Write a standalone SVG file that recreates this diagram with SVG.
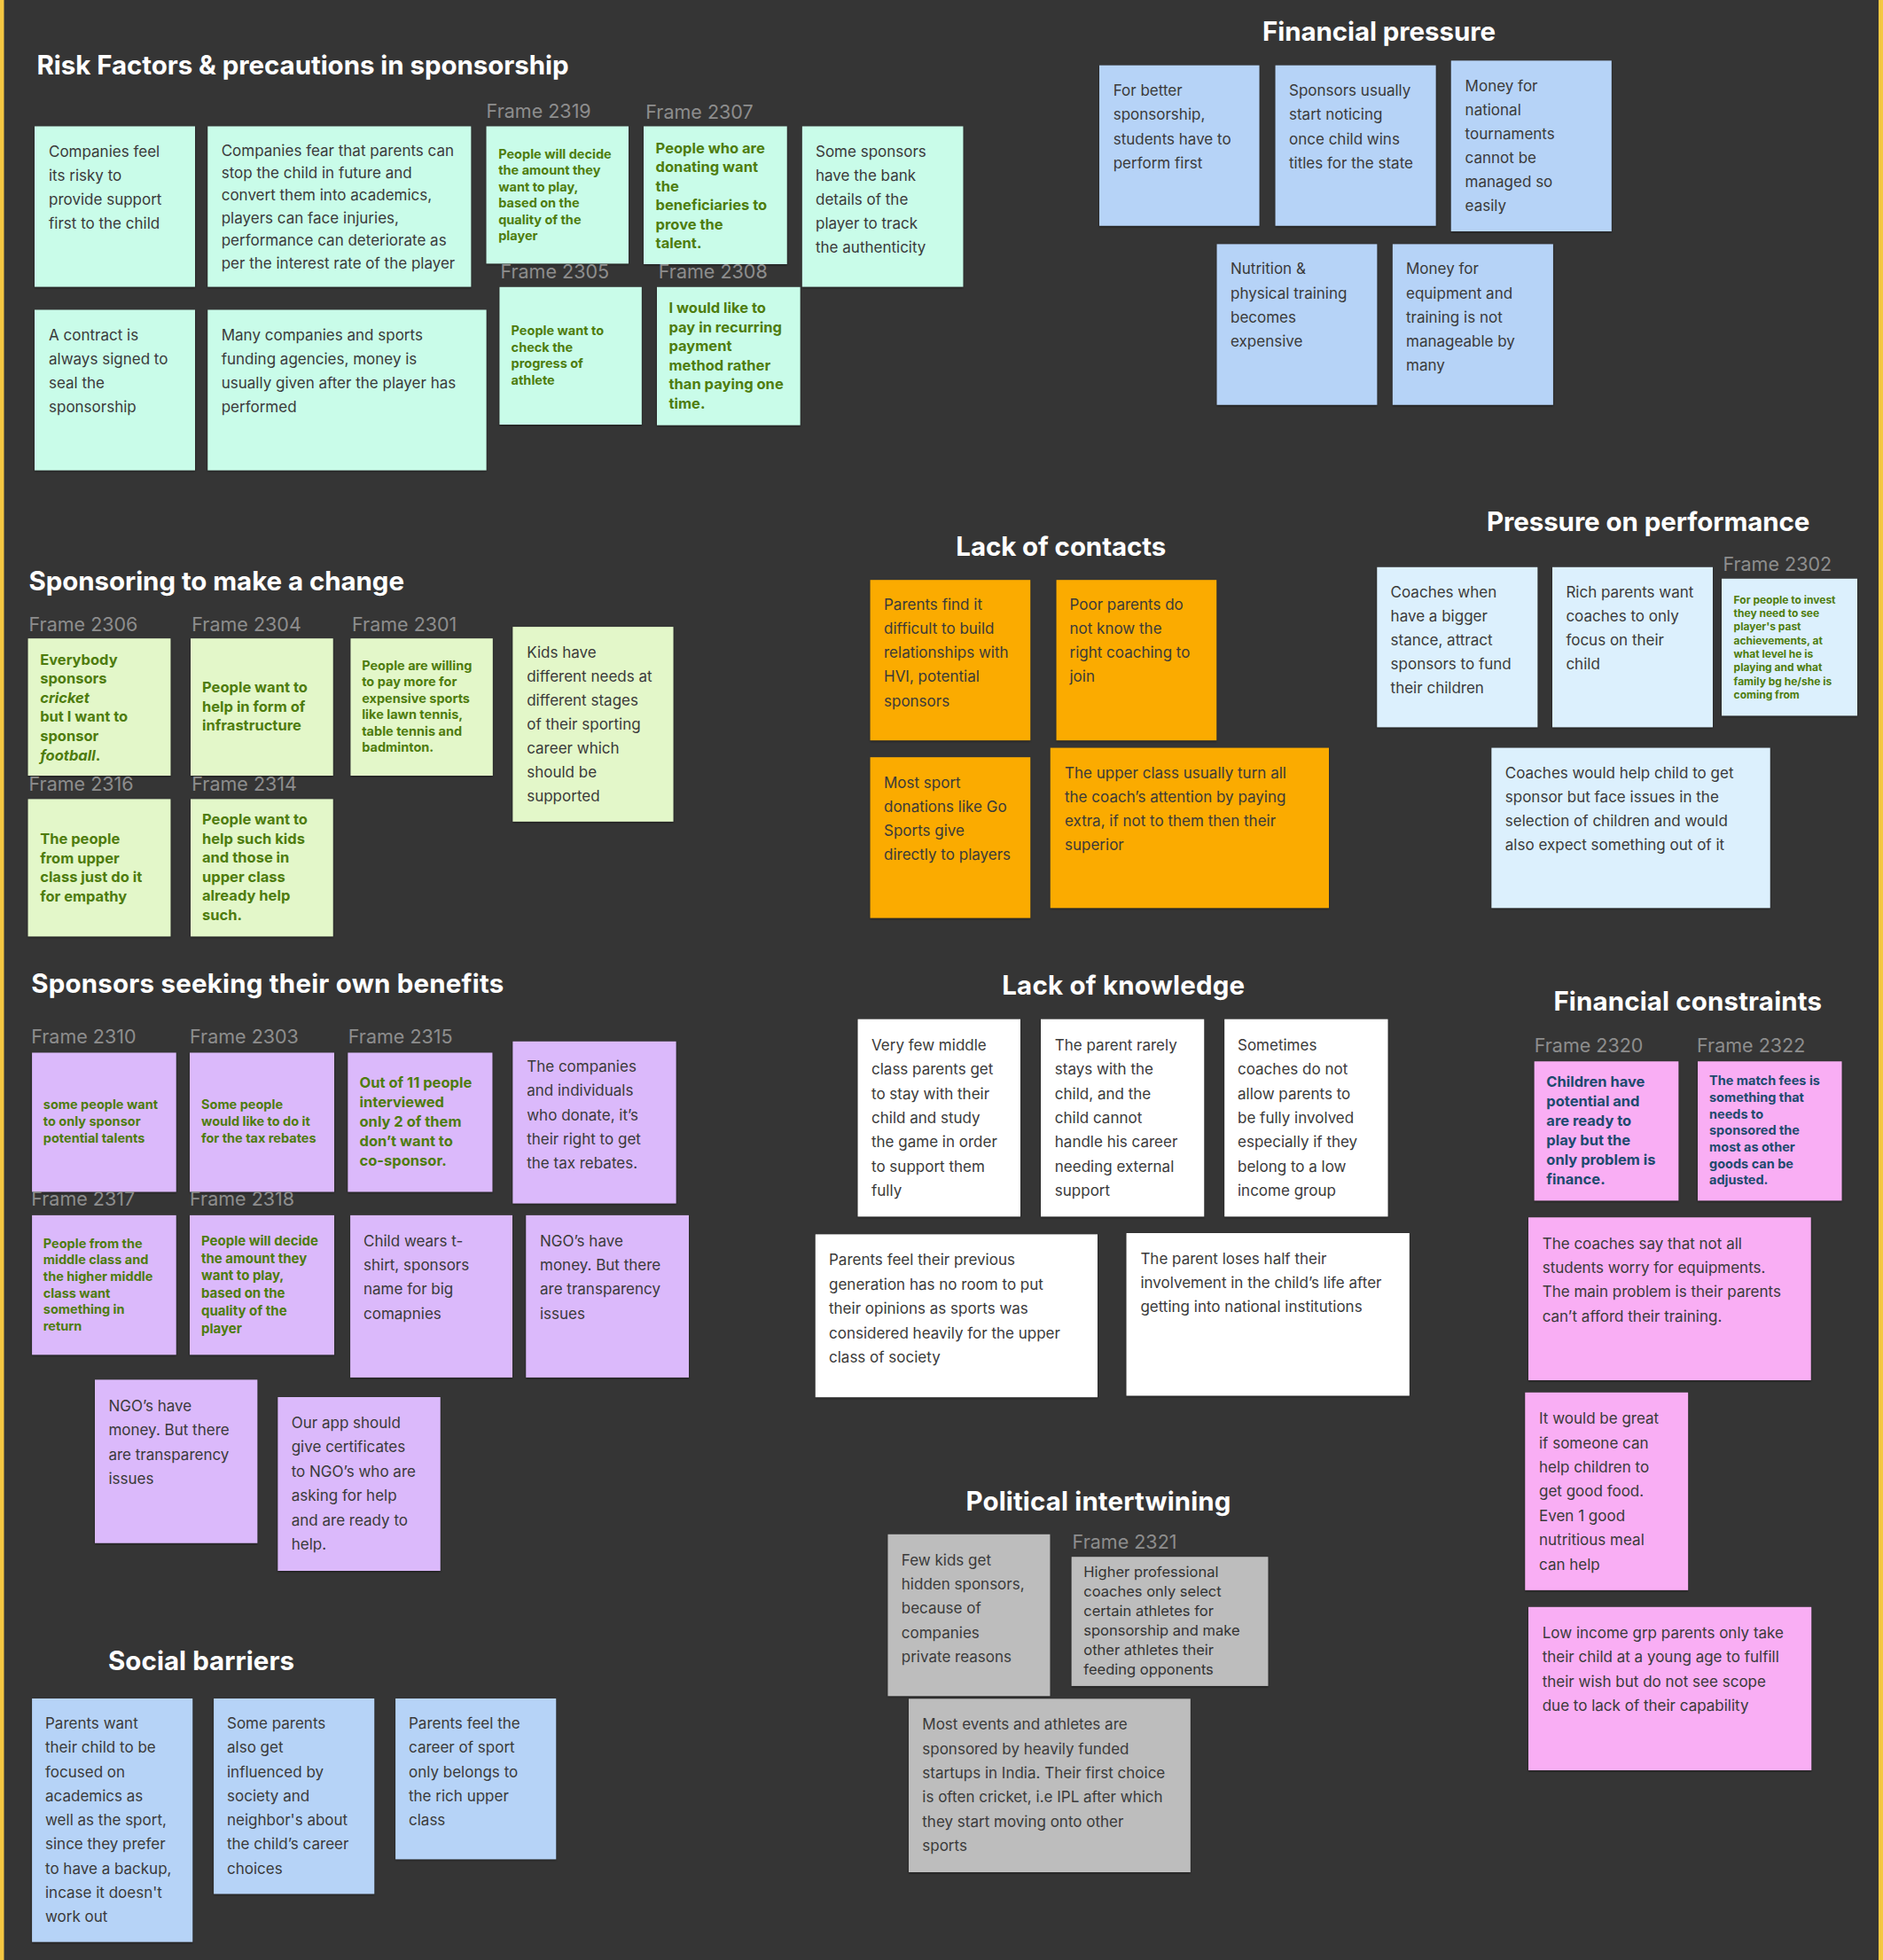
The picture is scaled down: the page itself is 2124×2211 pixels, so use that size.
<svg xmlns="http://www.w3.org/2000/svg" width="2124" height="2211" viewBox="0 0 2124 2211">
<defs>
<filter id="sh" x="-5%" y="-5%" width="110%" height="115%"><feDropShadow dx="0" dy="1.2" stdDeviation="1" flood-color="#000" flood-opacity="0.45"/></filter>
<style>
.n{filter:url(#sh)}
.mint{fill:#c9fce9}.blue{fill:#b6d3f7}.lg{fill:#e3f7c9}.org{fill:#fbab02}.lb{fill:#dcf0fd}.pur{fill:#dbb9fb}.wht{fill:#ffffff}.pnk{fill:#f9aef4}.gry{fill:#bdbdbd}
text{font-family:Inter,"Noto Sans","Liberation Sans",sans-serif}
.t{font-size:17px;fill:#3a3a3a}
.g{font-weight:700;fill:#4e7c0e}
.nv{font-weight:700;fill:#1d4a6e}
.s12{font-size:12px}.s14{font-size:14.5px}.s15{font-size:15px}.s16{font-size:16.5px}
.h{font-size:29.5px;font-weight:700;fill:#ffffff}
.f{font-size:21.5px;fill:#8d8d8d}
.dk{fill:#333333}
</style>
</defs>
<rect width="2124" height="2211" fill="#353535"/>
<rect x="0" y="0" width="4.5" height="2211" fill="#f5c842"/>
<rect x="2119" y="0" width="5" height="2211" fill="#f5c842"/>

<g id="titles">
<text class="h" x="41.5" y="83.9" textLength="600">Risk Factors &amp; precautions in sponsorship</text>
<text class="h" x="1424" y="45.8" textLength="263">Financial pressure</text>
<text class="h" x="32.5" y="665.9" textLength="423.5">Sponsoring to make a change</text>
<text class="h" x="1078.3" y="627" textLength="237">Lack of contacts</text>
<text class="h" x="1677" y="598.8" textLength="364.4">Pressure on performance</text>
<text class="h" x="35.2" y="1120" textLength="533">Sponsors seeking their own benefits</text>
<text class="h" x="1130.2" y="1122" textLength="274">Lack of knowledge</text>
<text class="h" x="1752.4" y="1139.5" textLength="302.6">Financial constraints</text>
<text class="h" x="1089.5" y="1703.7" textLength="299">Political intertwining</text>
<text class="h" x="122" y="1884.3" textLength="210">Social barriers</text>
</g>

<!-- Risk factors -->
<g id="rf1"><rect class="n mint" x="39" y="142.5" width="181" height="181"/>
<text class="t"><tspan x="55" y="177.4">Companies feel</tspan><tspan x="55" y="204.3">its risky to</tspan><tspan x="55" y="231.2">provide support</tspan><tspan x="55" y="258.1">first to the child</tspan></text></g>
<g id="rf2"><rect class="n mint" x="234.3" y="142.5" width="297" height="181"/>
<text class="t"><tspan x="249.7" y="175.6">Companies fear that parents can</tspan><tspan x="249.7" y="201">stop the child in future and</tspan><tspan x="249.7" y="226.4">convert them into academics,</tspan><tspan x="249.7" y="251.8">players can face injuries,</tspan><tspan x="249.7" y="277.2">performance can deteriorate as</tspan><tspan x="249.7" y="302.6">per the interest rate of the player</tspan></text></g>
<g id="rf3"><rect class="n mint" x="39" y="349.5" width="181" height="181"/>
<text class="t"><tspan x="55" y="384.4">A contract is</tspan><tspan x="55" y="411.4">always signed to</tspan><tspan x="55" y="438.4">seal the</tspan><tspan x="55" y="465.4">sponsorship</tspan></text></g>
<g id="rf4"><rect class="n mint" x="234.3" y="349.5" width="314.3" height="181"/>
<text class="t"><tspan x="249.7" y="384.4">Many companies and sports</tspan><tspan x="249.7" y="411.4">funding agencies, money is</tspan><tspan x="249.7" y="438.4">usually given after the player has</tspan><tspan x="249.7" y="465.4">performed</tspan></text></g>
<g id="frame2319"><text class="f" x="548.6" y="133.3">Frame 2319</text><rect class="n mint" x="548.6" y="142.5" width="160.4" height="154.8"/>
<text class="t g s14"><tspan x="562.2" y="178.8">People will decide</tspan><tspan x="562.2" y="197.3">the amount they</tspan><tspan x="562.2" y="215.8">want to play,</tspan><tspan x="562.2" y="234.3">based on the</tspan><tspan x="562.2" y="252.8">quality of the</tspan><tspan x="562.2" y="271.3">player</tspan></text></g>
<g id="frame2305"><text class="f" x="564.4" y="313.9">Frame 2305</text><rect class="n mint" x="563.5" y="323.8" width="160.3" height="155.2"/>
<text class="t g s14"><tspan x="576.6" y="378">People want to</tspan><tspan x="576.6" y="396.6">check the</tspan><tspan x="576.6" y="415.2">progress of</tspan><tspan x="576.6" y="433.8">athlete</tspan></text></g>
<g id="frame2307"><text class="f" x="728.3" y="134">Frame 2307</text><rect class="n mint" x="726" y="142.5" width="161.7" height="155.5"/>
<text class="t g s16"><tspan x="739.6" y="172.5">People who are</tspan><tspan x="739.6" y="194">donating want</tspan><tspan x="739.6" y="215.5">the</tspan><tspan x="739.6" y="237">beneficiaries to</tspan><tspan x="739.6" y="258.5">prove the</tspan><tspan x="739.6" y="280">talent.</tspan></text></g>
<g id="rf5"><rect class="n mint" x="904.9" y="142.5" width="181.5" height="181"/>
<text class="t"><tspan x="920" y="177.4">Some sponsors</tspan><tspan x="920" y="204.4">have the bank</tspan><tspan x="920" y="231.4">details of the</tspan><tspan x="920" y="258.4">player to track</tspan><tspan x="920" y="285.4">the authenticity</tspan></text></g>
<g id="frame2308"><text class="f" x="742.8" y="313.9">Frame 2308</text><rect class="n mint" x="741" y="323.8" width="161.6" height="155.8"/>
<text class="t g s16"><tspan x="754.5" y="353">I would like to</tspan><tspan x="754.5" y="374.6">pay in recurring</tspan><tspan x="754.5" y="396.2">payment</tspan><tspan x="754.5" y="417.8">method rather</tspan><tspan x="754.5" y="439.4">than paying one</tspan><tspan x="754.5" y="461">time.</tspan></text></g>

<!-- Financial pressure -->
<g id="fp1"><rect class="n blue" x="1240" y="73.7" width="180.5" height="181"/>
<text class="t"><tspan x="1255.7" y="108.3">For better</tspan><tspan x="1255.7" y="135.4">sponsorship,</tspan><tspan x="1255.7" y="162.5">students have to</tspan><tspan x="1255.7" y="189.6">perform first</tspan></text></g>
<g id="fp2"><rect class="n blue" x="1438.6" y="73.7" width="181" height="181"/>
<text class="t"><tspan x="1454" y="108.3">Sponsors usually</tspan><tspan x="1454" y="135.4">start noticing</tspan><tspan x="1454" y="162.5">once child wins</tspan><tspan x="1454" y="189.6">titles for the state</tspan></text></g>
<g id="fp3"><rect class="n blue" x="1636.8" y="68.4" width="181" height="192.6"/>
<text class="t"><tspan x="1652.6" y="102.6">Money for</tspan><tspan x="1652.6" y="129.7">national</tspan><tspan x="1652.6" y="156.8">tournaments</tspan><tspan x="1652.6" y="183.9">cannot be</tspan><tspan x="1652.6" y="211">managed so</tspan><tspan x="1652.6" y="238.1">easily</tspan></text></g>
<g id="fp4"><rect class="n blue" x="1372.6" y="275.4" width="180.7" height="181.3"/>
<text class="t"><tspan x="1388" y="309.3">Nutrition &amp;</tspan><tspan x="1388" y="336.5">physical training</tspan><tspan x="1388" y="363.7">becomes</tspan><tspan x="1388" y="390.9">expensive</tspan></text></g>
<g id="fp5"><rect class="n blue" x="1570.9" y="275.4" width="181" height="181.3"/>
<text class="t"><tspan x="1586" y="309.3">Money for</tspan><tspan x="1586" y="336.5">equipment and</tspan><tspan x="1586" y="363.7">training is not</tspan><tspan x="1586" y="390.9">manageable by</tspan><tspan x="1586" y="418.1">many</tspan></text></g>

<!-- Sponsoring to make a change -->
<g id="frame2306"><text class="f" x="32.5" y="711.7">Frame 2306</text><rect class="n lg" x="31.6" y="720.2" width="160.8" height="154.8"/>
<text class="t g s16"><tspan x="45.2" y="749.5">Everybody</tspan><tspan x="45.2" y="771.1">sponsors</tspan><tspan x="45.2" y="792.7" font-style="italic">cricket</tspan><tspan x="45.2" y="814.3">but I want to</tspan><tspan x="45.2" y="835.9">sponsor</tspan><tspan x="45.2" y="857.5" font-style="italic">football</tspan><tspan>.</tspan></text></g>
<g id="frame2304"><text class="f" x="216.3" y="711.7">Frame 2304</text><rect class="n lg" x="215" y="720.2" width="160.7" height="154.8"/>
<text class="t g s16"><tspan x="228" y="781.2">People want to</tspan><tspan x="228" y="802.8">help in form of</tspan><tspan x="228" y="824.4">infrastructure</tspan></text></g>
<g id="frame2301"><text class="f" x="397" y="711.7">Frame 2301</text><rect class="n lg" x="395.5" y="720.2" width="160.3" height="154.8"/>
<text class="t g s14"><tspan x="408.2" y="755.8">People are willing</tspan><tspan x="408.2" y="774.3">to pay more for</tspan><tspan x="408.2" y="792.8">expensive sports</tspan><tspan x="408.2" y="811.3">like lawn tennis,</tspan><tspan x="408.2" y="829.8">table tennis and</tspan><tspan x="408.2" y="848.3">badminton.</tspan></text></g>
<g id="sc1"><rect class="n lg" x="578.4" y="707.1" width="181.1" height="219.7"/>
<text class="t"><tspan x="594.2" y="741.7">Kids have</tspan><tspan x="594.2" y="768.7">different needs at</tspan><tspan x="594.2" y="795.7">different stages</tspan><tspan x="594.2" y="822.7">of their sporting</tspan><tspan x="594.2" y="849.7">career which</tspan><tspan x="594.2" y="876.7">should be</tspan><tspan x="594.2" y="903.7">supported</tspan></text></g>
<g id="frame2316"><text class="f" x="32.5" y="892.3">Frame 2316</text><rect class="n lg" x="31.6" y="901.4" width="160.8" height="154.9"/>
<text class="t g s16"><tspan x="45.2" y="951.9">The people</tspan><tspan x="45.2" y="973.6">from upper</tspan><tspan x="45.2" y="995.3">class just do it</tspan><tspan x="45.2" y="1017">for empathy</tspan></text></g>
<g id="frame2314"><text class="f" x="216.3" y="892.3">Frame 2314</text><rect class="n lg" x="215" y="901.4" width="160.7" height="154.9"/>
<text class="t g s16"><tspan x="228" y="930">People want to</tspan><tspan x="228" y="951.6">help such kids</tspan><tspan x="228" y="973.2">and those in</tspan><tspan x="228" y="994.8">upper class</tspan><tspan x="228" y="1016.4">already help</tspan><tspan x="228" y="1038">such.</tspan></text></g>

<!-- Lack of contacts -->
<g id="lc1"><rect class="n org" x="981.6" y="654.2" width="180.6" height="180.9"/>
<text class="t"><tspan x="997" y="688.1">Parents find it</tspan><tspan x="997" y="715.2">difficult to build</tspan><tspan x="997" y="742.3">relationships with</tspan><tspan x="997" y="769.4">HVI, potential</tspan><tspan x="997" y="796.5">sponsors</tspan></text></g>
<g id="lc2"><rect class="n org" x="1191.6" y="654.2" width="180.6" height="180.9"/>
<text class="t"><tspan x="1206.5" y="688.1">Poor parents do</tspan><tspan x="1206.5" y="715.2">not know the</tspan><tspan x="1206.5" y="742.3">right coaching to</tspan><tspan x="1206.5" y="769.4">join</tspan></text></g>
<g id="lc3"><rect class="n org" x="981.6" y="854.2" width="180.6" height="181.3"/>
<text class="t"><tspan x="997" y="888.8">Most sport</tspan><tspan x="997" y="915.9">donations like Go</tspan><tspan x="997" y="943">Sports give</tspan><tspan x="997" y="970.1">directly to players</tspan></text></g>
<g id="lc4"><rect class="n org" x="1184.8" y="843.6" width="314.2" height="180.6"/>
<text class="t"><tspan x="1201" y="877.8">The upper class usually turn all</tspan><tspan x="1201" y="904.9">the coach’s attention by paying</tspan><tspan x="1201" y="932">extra, if not to them then their</tspan><tspan x="1201" y="959.1">superior</tspan></text></g>

<!-- Pressure on performance -->
<g id="pp1"><rect class="n lb" x="1553.3" y="639.8" width="181" height="180.5"/>
<text class="t"><tspan x="1568.6" y="674">Coaches when</tspan><tspan x="1568.6" y="701.1">have a bigger</tspan><tspan x="1568.6" y="728.2">stance, attract</tspan><tspan x="1568.6" y="755.3">sponsors to fund</tspan><tspan x="1568.6" y="782.4">their children</tspan></text></g>
<g id="pp2"><rect class="n lb" x="1751" y="639.8" width="181" height="180.5"/>
<text class="t"><tspan x="1766.4" y="674">Rich parents want</tspan><tspan x="1766.4" y="701.1">coaches to only</tspan><tspan x="1766.4" y="728.2">focus on their</tspan><tspan x="1766.4" y="755.3">child</tspan></text></g>
<g id="frame2302"><text class="f" x="1943.4" y="644">Frame 2302</text><rect class="n lb" x="1942" y="652.8" width="153" height="154.5"/>
<text class="t g s12"><tspan x="1955.6" y="680.7">For people to invest</tspan><tspan x="1955.6" y="696">they need to see</tspan><tspan x="1955.6" y="711.3">player's past</tspan><tspan x="1955.6" y="726.6">achievements, at</tspan><tspan x="1955.6" y="741.9">what level he is</tspan><tspan x="1955.6" y="757.2">playing and what</tspan><tspan x="1955.6" y="772.5">family bg he/she is</tspan><tspan x="1955.6" y="787.8">coming from</tspan></text></g>
<g id="pp3"><rect class="n lb" x="1682.4" y="843.6" width="314.3" height="180.6"/>
<text class="t"><tspan x="1697.8" y="877.8">Coaches would help child to get</tspan><tspan x="1697.8" y="904.9">sponsor but face issues in the</tspan><tspan x="1697.8" y="932">selection of children and would</tspan><tspan x="1697.8" y="959.1">also expect something out of it</tspan></text></g>

<!-- Sponsors seeking their own benefits -->
<g id="frame2310"><text class="f" x="35.2" y="1176.5">Frame 2310</text><rect class="n pur" x="36.1" y="1187.5" width="162.6" height="156.9"/>
<text class="t g s14"><tspan x="48.8" y="1251.3">some people want</tspan><tspan x="48.8" y="1270.2">to only sponsor</tspan><tspan x="48.8" y="1289.1">potential talents</tspan></text></g>
<g id="frame2303"><text class="f" x="214" y="1176.5">Frame 2303</text><rect class="n pur" x="214" y="1187.5" width="163" height="156.9"/>
<text class="t g s14"><tspan x="227" y="1251.3">Some people</tspan><tspan x="227" y="1270.2">would like to do it</tspan><tspan x="227" y="1289.1">for the tax rebates</tspan></text></g>
<g id="frame2315"><text class="f" x="392.8" y="1176.5">Frame 2315</text><rect class="n pur" x="392.4" y="1187.5" width="163" height="156.9"/>
<text class="t g s16"><tspan x="405.5" y="1227.3">Out of 11 people</tspan><tspan x="405.5" y="1249.3">interviewed</tspan><tspan x="405.5" y="1271.3">only 2 of them</tspan><tspan x="405.5" y="1293.3">don’t want to</tspan><tspan x="405.5" y="1315.3">co-sponsor.</tspan></text></g>
<g id="sb1"><rect class="n pur" x="578.4" y="1174.8" width="184.2" height="182.7"/>
<text class="t"><tspan x="594.2" y="1209">The companies</tspan><tspan x="594.2" y="1236.3">and individuals</tspan><tspan x="594.2" y="1263.6">who donate, it’s</tspan><tspan x="594.2" y="1290.9">their right to get</tspan><tspan x="594.2" y="1318.2">the tax rebates.</tspan></text></g>
<g id="frame2317"><text class="f" x="35.2" y="1360">Frame 2317</text><rect class="n pur" x="36.1" y="1370.9" width="162.6" height="157.3"/>
<text class="t g s14"><tspan x="48.8" y="1407.6">People from the</tspan><tspan x="48.8" y="1426.3">middle class and</tspan><tspan x="48.8" y="1445">the higher middle</tspan><tspan x="48.8" y="1463.7">class want</tspan><tspan x="48.8" y="1482.4">something in</tspan><tspan x="48.8" y="1501.1">return</tspan></text></g>
<g id="frame2318"><text class="f" x="214" y="1360">Frame 2318</text><rect class="n pur" x="214" y="1370.9" width="163" height="157.3"/>
<text class="t g s15"><tspan x="227" y="1405">People will decide</tspan><tspan x="227" y="1424.7">the amount they</tspan><tspan x="227" y="1444.4">want to play,</tspan><tspan x="227" y="1464.1">based on the</tspan><tspan x="227" y="1483.8">quality of the</tspan><tspan x="227" y="1503.5">player</tspan></text></g>
<g id="sb2"><rect class="n pur" x="395.1" y="1370.9" width="182.9" height="183"/>
<text class="t"><tspan x="410" y="1405.8">Child wears t-</tspan><tspan x="410" y="1433.1">shirt, sponsors</tspan><tspan x="410" y="1460.4">name for big</tspan><tspan x="410" y="1487.7">comapnies</tspan></text></g>
<g id="sb3"><rect class="n pur" x="593.3" y="1370.9" width="183.7" height="183"/>
<text class="t"><tspan x="609" y="1405.8">NGO’s have</tspan><tspan x="609" y="1433.1">money. But there</tspan><tspan x="609" y="1460.4">are transparency</tspan><tspan x="609" y="1487.7">issues</tspan></text></g>
<g id="sb4"><rect class="n pur" x="107" y="1556.4" width="183.3" height="184.3"/>
<text class="t"><tspan x="122.4" y="1591.7">NGO’s have</tspan><tspan x="122.4" y="1619.1">money. But there</tspan><tspan x="122.4" y="1646.5">are transparency</tspan><tspan x="122.4" y="1673.9">issues</tspan></text></g>
<g id="sb5"><rect class="n pur" x="313.4" y="1576" width="183.3" height="196"/>
<text class="t"><tspan x="328.7" y="1611">Our app should</tspan><tspan x="328.7" y="1638.4">give certificates</tspan><tspan x="328.7" y="1665.8">to NGO’s who are</tspan><tspan x="328.7" y="1693.2">asking for help</tspan><tspan x="328.7" y="1720.6">and are ready to</tspan><tspan x="328.7" y="1748">help.</tspan></text></g>

<!-- Lack of knowledge -->
<g id="lk1"><rect class="n wht" x="967.6" y="1149.7" width="183.4" height="222.6"/>
<text class="t"><tspan x="983" y="1184.7">Very few middle</tspan><tspan x="983" y="1212.1">class parents get</tspan><tspan x="983" y="1239.5">to stay with their</tspan><tspan x="983" y="1266.9">child and study</tspan><tspan x="983" y="1294.3">the game in order</tspan><tspan x="983" y="1321.7">to support them</tspan><tspan x="983" y="1349.1">fully</tspan></text></g>
<g id="lk2"><rect class="n wht" x="1174" y="1149.7" width="184.2" height="222.6"/>
<text class="t"><tspan x="1189.8" y="1184.7">The parent rarely</tspan><tspan x="1189.8" y="1212.1">stays with the</tspan><tspan x="1189.8" y="1239.5">child, and the</tspan><tspan x="1189.8" y="1266.9">child cannot</tspan><tspan x="1189.8" y="1294.3">handle his career</tspan><tspan x="1189.8" y="1321.7">needing external</tspan><tspan x="1189.8" y="1349.1">support</tspan></text></g>
<g id="lk3"><rect class="n wht" x="1381.2" y="1149.7" width="184.3" height="222.6"/>
<text class="t"><tspan x="1396" y="1184.7">Sometimes</tspan><tspan x="1396" y="1212.1">coaches do not</tspan><tspan x="1396" y="1239.5">allow parents to</tspan><tspan x="1396" y="1266.9">be fully involved</tspan><tspan x="1396" y="1294.3">especially if they</tspan><tspan x="1396" y="1321.7">belong to a low</tspan><tspan x="1396" y="1349.1">income group</tspan></text></g>
<g id="lk4"><rect class="n wht" x="919.8" y="1392.4" width="318.2" height="183.7"/>
<text class="t"><tspan x="935" y="1427.3">Parents feel their previous</tspan><tspan x="935" y="1454.7">generation has no room to put</tspan><tspan x="935" y="1482.1">their opinions as sports was</tspan><tspan x="935" y="1509.5">considered heavily for the upper</tspan><tspan x="935" y="1536.9">class of society</tspan></text></g>
<g id="lk5"><rect class="n wht" x="1270.6" y="1391" width="319.2" height="183.4"/>
<text class="t"><tspan x="1286.4" y="1425.5">The parent loses half their</tspan><tspan x="1286.4" y="1452.9">involvement in the child’s life after</tspan><tspan x="1286.4" y="1480.3">getting into national institutions</tspan></text></g>

<!-- Financial constraints -->
<g id="frame2320"><text class="f" x="1730.7" y="1187">Frame 2320</text><rect class="n pnk" x="1730.7" y="1197.3" width="162.6" height="157"/>
<text class="t nv s16"><tspan x="1744.3" y="1226.3">Children have</tspan><tspan x="1744.3" y="1248.2">potential and</tspan><tspan x="1744.3" y="1270.1">are ready to</tspan><tspan x="1744.3" y="1292">play but the</tspan><tspan x="1744.3" y="1313.9">only problem is</tspan><tspan x="1744.3" y="1335.8">finance.</tspan></text></g>
<g id="frame2322"><text class="f" x="1914" y="1187">Frame 2322</text><rect class="n pnk" x="1915" y="1197.3" width="162.5" height="157"/>
<text class="t nv s14"><tspan x="1928" y="1224.2">The match fees is</tspan><tspan x="1928" y="1242.9">something that</tspan><tspan x="1928" y="1261.6">needs to</tspan><tspan x="1928" y="1280.3">sponsored the</tspan><tspan x="1928" y="1299">most as other</tspan><tspan x="1928" y="1317.7">goods can be</tspan><tspan x="1928" y="1336.4">adjusted.</tspan></text></g>
<g id="fc1"><rect class="n pnk" x="1724" y="1373.3" width="318.7" height="183.7"/>
<text class="t"><tspan x="1739.7" y="1408.6">The coaches say that not all</tspan><tspan x="1739.7" y="1435.9">students worry for equipments.</tspan><tspan x="1739.7" y="1463.2">The main problem is their parents</tspan><tspan x="1739.7" y="1490.5">can’t afford their training.</tspan></text></g>
<g id="fc2"><rect class="n pnk" x="1720.3" y="1570.8" width="183.8" height="223"/>
<text class="t"><tspan x="1736" y="1606.1">It would be great</tspan><tspan x="1736" y="1633.5">if someone can</tspan><tspan x="1736" y="1660.9">help children to</tspan><tspan x="1736" y="1688.3">get good food.</tspan><tspan x="1736" y="1715.7">Even 1 good</tspan><tspan x="1736" y="1743.1">nutritious meal</tspan><tspan x="1736" y="1770.5">can help</tspan></text></g>
<g id="fc3"><rect class="n pnk" x="1724" y="1812.8" width="319.2" height="184.2"/>
<text class="t"><tspan x="1739.7" y="1848">Low income grp parents only take</tspan><tspan x="1739.7" y="1875.4">their child at a young age to fulfill</tspan><tspan x="1739.7" y="1902.8">their wish but do not see scope</tspan><tspan x="1739.7" y="1930.2">due to lack of their capability</tspan></text></g>

<!-- Political intertwining -->
<g id="pi1"><rect class="n gry" x="1001.5" y="1730.8" width="182.9" height="182.4"/>
<text class="t"><tspan x="1016.8" y="1765.7">Few kids get</tspan><tspan x="1016.8" y="1793">hidden sponsors,</tspan><tspan x="1016.8" y="1820.3">because of</tspan><tspan x="1016.8" y="1847.6">companies</tspan><tspan x="1016.8" y="1874.9">private reasons</tspan></text></g>
<g id="frame2321"><text class="f" x="1209.6" y="1747">Frame 2321</text><rect class="n gry" x="1208.7" y="1756.2" width="221.7" height="145.7"/>
<text class="t dk s16"><tspan x="1222.3" y="1779.4">Higher professional</tspan><tspan x="1222.3" y="1801.4">coaches only select</tspan><tspan x="1222.3" y="1823.4">certain athletes for</tspan><tspan x="1222.3" y="1845.4">sponsorship and make</tspan><tspan x="1222.3" y="1867.4">other athletes their</tspan><tspan x="1222.3" y="1889.4">feeding opponents</tspan></text></g>
<g id="pi2"><rect class="n gry" x="1025" y="1916.3" width="317.8" height="195.7"/>
<text class="t"><tspan x="1040.3" y="1951.2">Most events and athletes are</tspan><tspan x="1040.3" y="1978.6">sponsored by heavily funded</tspan><tspan x="1040.3" y="2006">startups in India. Their first choice</tspan><tspan x="1040.3" y="2033.4">is often cricket, i.e IPL after which</tspan><tspan x="1040.3" y="2060.8">they start moving onto other</tspan><tspan x="1040.3" y="2088.2">sports</tspan></text></g>

<!-- Social barriers -->
<g id="so1"><rect class="n blue" x="36.1" y="1916" width="181.1" height="274.6"/>
<text class="t"><tspan x="51" y="1950.1">Parents want</tspan><tspan x="51" y="1977.4">their child to be</tspan><tspan x="51" y="2004.6">focused on</tspan><tspan x="51" y="2031.9">academics as</tspan><tspan x="51" y="2059.1">well as the sport,</tspan><tspan x="51" y="2086.4">since they prefer</tspan><tspan x="51" y="2113.6">to have a backup,</tspan><tspan x="51" y="2140.9">incase it doesn't</tspan><tspan x="51" y="2168.1">work out</tspan></text></g>
<g id="so2"><rect class="n blue" x="241.1" y="1916" width="181.1" height="220.4"/>
<text class="t"><tspan x="256" y="1950.1">Some parents</tspan><tspan x="256" y="1977.4">also get</tspan><tspan x="256" y="2004.6">influenced by</tspan><tspan x="256" y="2031.9">society and</tspan><tspan x="256" y="2059.1">neighbor's about</tspan><tspan x="256" y="2086.4">the child’s career</tspan><tspan x="256" y="2113.6">choices</tspan></text></g>
<g id="so3"><rect class="n blue" x="446.1" y="1916" width="181.1" height="181.3"/>
<text class="t"><tspan x="461" y="1950.1">Parents feel the</tspan><tspan x="461" y="1977.4">career of sport</tspan><tspan x="461" y="2004.6">only belongs to</tspan><tspan x="461" y="2031.9">the rich upper</tspan><tspan x="461" y="2059.1">class</tspan></text></g>
</svg>
